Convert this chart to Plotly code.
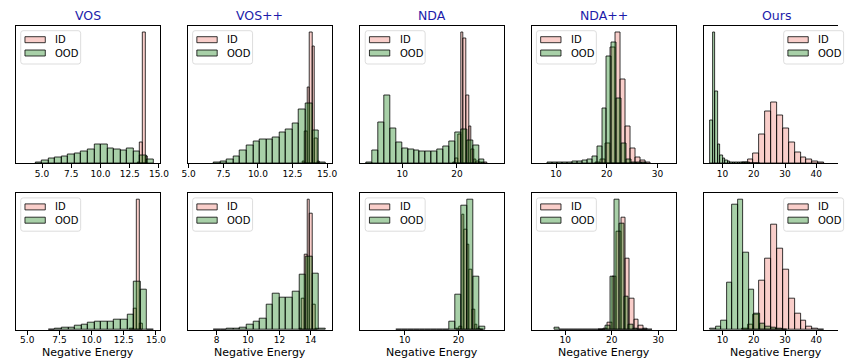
import plotly.graph_objects as go

W, H = 847, 360

METHODS = ["VOS", "VOS++", "NDA", "NDA++", "Ours"]
X_LABEL = "Negative Energy"
LEGEND_LABELS = ["ID", "OOD"]

# ---------------- data (bin start, bin width, counts) ----------------
# Row 1
ID_VOS_1 = (13.18, 0.22, [3, 62, 392, 20])
OOD_VOS_1 = (4.44, 0.56, [2, 7, 13, 17, 21, 25, 30, 35, 40, 57, 55, 45, 40, 38, 43, 36, 24, 12])

ID_VOSPP_1 = (13.21, 0.18, [5, 95, 225, 392, 350, 75, 5])
OOD_VOSPP_1 = (6.82, 0.474, [2, 5, 10, 20, 37, 52, 65, 70, 70, 78, 92, 102, 120, 162, 178, 98, 2])

ID_NDA_1 = (19.32, 0.48, [3, 15, 85, 392, 372, 202, 110, 40, 12, 5, 2, 1, 1])
OOD_NDA_1 = (3.5, 1.08, [2, 38, 123, 202, 105, 62, 45, 42, 38, 35, 35, 35, 40, 50, 65, 93, 100, 68, 53, 10])

ID_NDAPP_1 = (17.87, 0.97, [2, 10, 58, 345, 392, 250, 110, 45, 18, 7, 2])
OOD_NDAPP_1 = (8.4, 0.97, [1, 1, 1, 2, 3, 4, 5, 8, 12, 20, 50, 165, 320, 360, 195, 58, 10, 3, 1, 1])

ID_OURS_1 = (16.2, 1.88, [2, 12, 28, 85, 155, 183, 142, 105, 62, 32, 17, 10, 4, 2])
OOD_OURS_1 = (6.1, 0.8, [128, 392, 215, 55, 22, 15, 8, 5, 3, 2, 1, 1, 1, 1, 1, 1, 0.5, 0.5, 0.5, 0.5])

# Row 2
ID_VOS_2 = (12.99, 0.25, [3, 65, 392, 20])
OOD_VOS_2 = (6.66, 0.51, [2, 4, 6, 8, 13, 17, 22, 26, 26, 24, 30, 32, 45, 145, 120, 2])

ID_VOSPP_2 = (13.265, 0.17, [5, 95, 225, 392, 350, 75, 5])
OOD_VOSPP_2 = (7.83, 0.418, [2, 2, 3, 5, 8, 15, 25, 35, 75, 108, 98, 98, 115, 165, 220, 170, 4])

ID_NDA_2 = (19.63, 0.49, [3, 10, 345, 300, 255, 180, 60, 15, 5, 2])
OOD_NDA_2 = (8.39, 1.1, [2, 0, 0, 0, 0, 0, 0, 1, 2, 25, 105, 372, 392, 160, 10])

ID_NDAPP_2 = (17.2, 0.96, [1, 3, 22, 160, 295, 338, 213, 95, 30, 12, 5, 2])
OOD_NDAPP_2 = (7.8, 0.99, [6, 0, 0, 0, 0, 0, 0, 0, 0, 1, 2, 12, 160, 392, 320, 100, 15, 3, 1, 0])

ID_OURS_2 = (16.2, 1.88, [3, 15, 45, 148, 215, 315, 245, 180, 95, 48, 28, 10, 3, 2])
OOD_OURS_2 = (6.2, 1.75, [4, 10, 28, 142, 375, 392, 232, 120, 50, 18, 10, 6, 3, 1])

# tick values per column
TICKS_VOS = [5.0, 7.5, 10.0, 12.5, 15.0]
TICKS_VOSPP_2 = [8, 10, 12, 14]
TICKS_NDA = [10, 20]
TICKS_NDAPP = [10, 20, 30]
TICKS_OURS = [10, 20, 30, 40]

# axis ranges
XR = [
    [(2.76, 15.11), (4.93, 15.36), (2.35, 28.56), (5.16, 33.68), (4.14, 50.3)],
    [(4.11, 15.33), (6.16, 15.36), (1.71, 28.41), (2.75, 33.87), (4.14, 50.3)],
]

PANELS = [
    [(ID_VOS_1, OOD_VOS_1, TICKS_VOS, True), (ID_VOSPP_1, OOD_VOSPP_1, TICKS_VOS, True),
     (ID_NDA_1, OOD_NDA_1, TICKS_NDA, False), (ID_NDAPP_1, OOD_NDAPP_1, TICKS_NDAPP, False),
     (ID_OURS_1, OOD_OURS_1, TICKS_OURS, False)],
    [(ID_VOS_2, OOD_VOS_2, TICKS_VOS, True), (ID_VOSPP_2, OOD_VOSPP_2, TICKS_VOSPP_2, False),
     (ID_NDA_2, OOD_NDA_2, TICKS_NDA, False), (ID_NDAPP_2, OOD_NDAPP_2, TICKS_NDAPP, False),
     (ID_OURS_2, OOD_OURS_2, TICKS_OURS, False)],
]

# ---------------- layout geometry (pixels) ----------------
COLS = [(10, 157), (185, 332), (360.7, 506.7), (535, 682.3), (710.7, 857.7)]
ROWS = [(25.5, 163.3), (192.7, 330)]

ID_FILL = "rgba(238,120,108,0.36)"
OOD_FILL = "rgba(0,118,0,0.34)"
EDGE = "rgba(0,0,0,0.78)"
FONT = "DejaVu Sans"
TITLE_COLOR = "#1c1caa"


def px(x):
    return x / W


def py(y):
    return 1 - y / H


fig = go.Figure()
layout = {}
shapes = []
annotations = []

idx = 0
for r, (ry0, ry1) in enumerate(ROWS):
    for c, (cx0, cx1) in enumerate(COLS):
        idx += 1
        id_hist, ood_hist, ticks, decimal = PANELS[r][c]
        xa = "x" if idx == 1 else f"x{idx}"
        ya = "y" if idx == 1 else f"y{idx}"
        for (start, width, counts), fill in ((id_hist, ID_FILL), (ood_hist, OOD_FILL)):
            centers = [start + width * (i + 0.5) for i in range(len(counts))]
            fig.add_trace(go.Bar(
                x=centers, y=counts, width=width, xaxis=xa, yaxis=ya,
                marker=dict(color=fill, line=dict(color=EDGE, width=1)),
                hoverinfo="skip", showlegend=False))
        ymax = max(max(id_hist[2]), max(ood_hist[2])) * 1.05

        x0r, x1r = XR[r][c]
        vis_x1 = min(cx1, W)
        x1r_vis = x0r + (x1r - x0r) * (vis_x1 - cx0) / (cx1 - cx0)
        clipped = vis_x1 < cx1

        key = "" if idx == 1 else str(idx)
        layout["xaxis" + key] = dict(
            domain=[px(cx0), px(vis_x1)], anchor=ya, range=[x0r, x1r_vis],
            showline=True, linecolor="black", linewidth=1, mirror=True,
            showgrid=False, zeroline=False, ticks="outside", ticklen=3.5, tickwidth=0.8,
            tickcolor="black", tickvals=ticks, ticklabelstandoff=-2,
            ticktext=[(f"{t:.1f}" if decimal else f"{t:g}") for t in ticks],
            tickfont=dict(family=FONT, size=9, color="black"), fixedrange=True)
        layout["yaxis" + key] = dict(
            domain=[py(ry1), py(ry0)], anchor=xa, range=[0, ymax],
            showline=True, linecolor="black", linewidth=1, mirror=not clipped,
            showgrid=False, zeroline=False, showticklabels=False, ticks="", fixedrange=True)

        # titles (top row) and x labels (bottom row)
        if r == 0:
            annotations.append(dict(
                x=px((cx0 + cx1) / 2), y=py(15.5), xref="paper", yref="paper",
                text=METHODS[c], showarrow=False, xanchor="center", yanchor="middle",
                font=dict(family=FONT, size=12.5, color=TITLE_COLOR)))
        else:
            annotations.append(dict(
                x=px((cx0 + cx1) / 2), y=py(352.5), xref="paper", yref="paper",
                text=X_LABEL, showarrow=False, xanchor="center", yanchor="middle",
                font=dict(family=FONT, size=11, color="black")))

        # legend box
        lw, lh = 61, 33.3
        lx = (cx1 - 5 - lw) if c == 4 else (cx0 + 5)
        ly = ry0 + 5.2
        rad = 2.5
        X0, X1, Y0, Y1 = lx, lx + lw, ly, ly + lh
        path = (f"M {px(X0 + rad)},{py(Y0)} L {px(X1 - rad)},{py(Y0)} "
                f"Q {px(X1)},{py(Y0)} {px(X1)},{py(Y0 + rad)} "
                f"L {px(X1)},{py(Y1 - rad)} Q {px(X1)},{py(Y1)} {px(X1 - rad)},{py(Y1)} "
                f"L {px(X0 + rad)},{py(Y1)} Q {px(X0)},{py(Y1)} {px(X0)},{py(Y1 - rad)} "
                f"L {px(X0)},{py(Y0 + rad)} Q {px(X0)},{py(Y0)} {px(X0 + rad)},{py(Y0)} Z")
        shapes.append(dict(type="path", path=path, xref="paper", yref="paper",
                           fillcolor="rgba(255,255,255,0.8)",
                           line=dict(color="#d4d4d4", width=0.8), layer="above"))
        for k, (lab, fill) in enumerate(zip(LEGEND_LABELS, (ID_FILL, OOD_FILL))):
            pyc = ly + 9 + k * 13.3
            shapes.append(dict(type="rect", xref="paper", yref="paper",
                               x0=px(lx + 4.3), x1=px(lx + 25), y0=py(pyc - 3), y1=py(pyc + 3),
                               fillcolor=fill, line=dict(color=EDGE, width=1), layer="above"))
            annotations.append(dict(
                x=px(lx + 33), y=py(pyc), xref="paper", yref="paper", text=lab,
                showarrow=False, xanchor="left", yanchor="middle",
                font=dict(family=FONT, size=10, color="black")))

fig.update_layout(
    width=W, height=H, margin=dict(l=0, r=0, t=0, b=0),
    paper_bgcolor="white", plot_bgcolor="white", barmode="overlay", bargap=0,
    showlegend=False, shapes=shapes, annotations=annotations, **layout)

fig.write_html(
    "out.html", config={"displayModeBar": False},
    post_script="document.body.style.margin='0';document.body.style.overflow='hidden';")
